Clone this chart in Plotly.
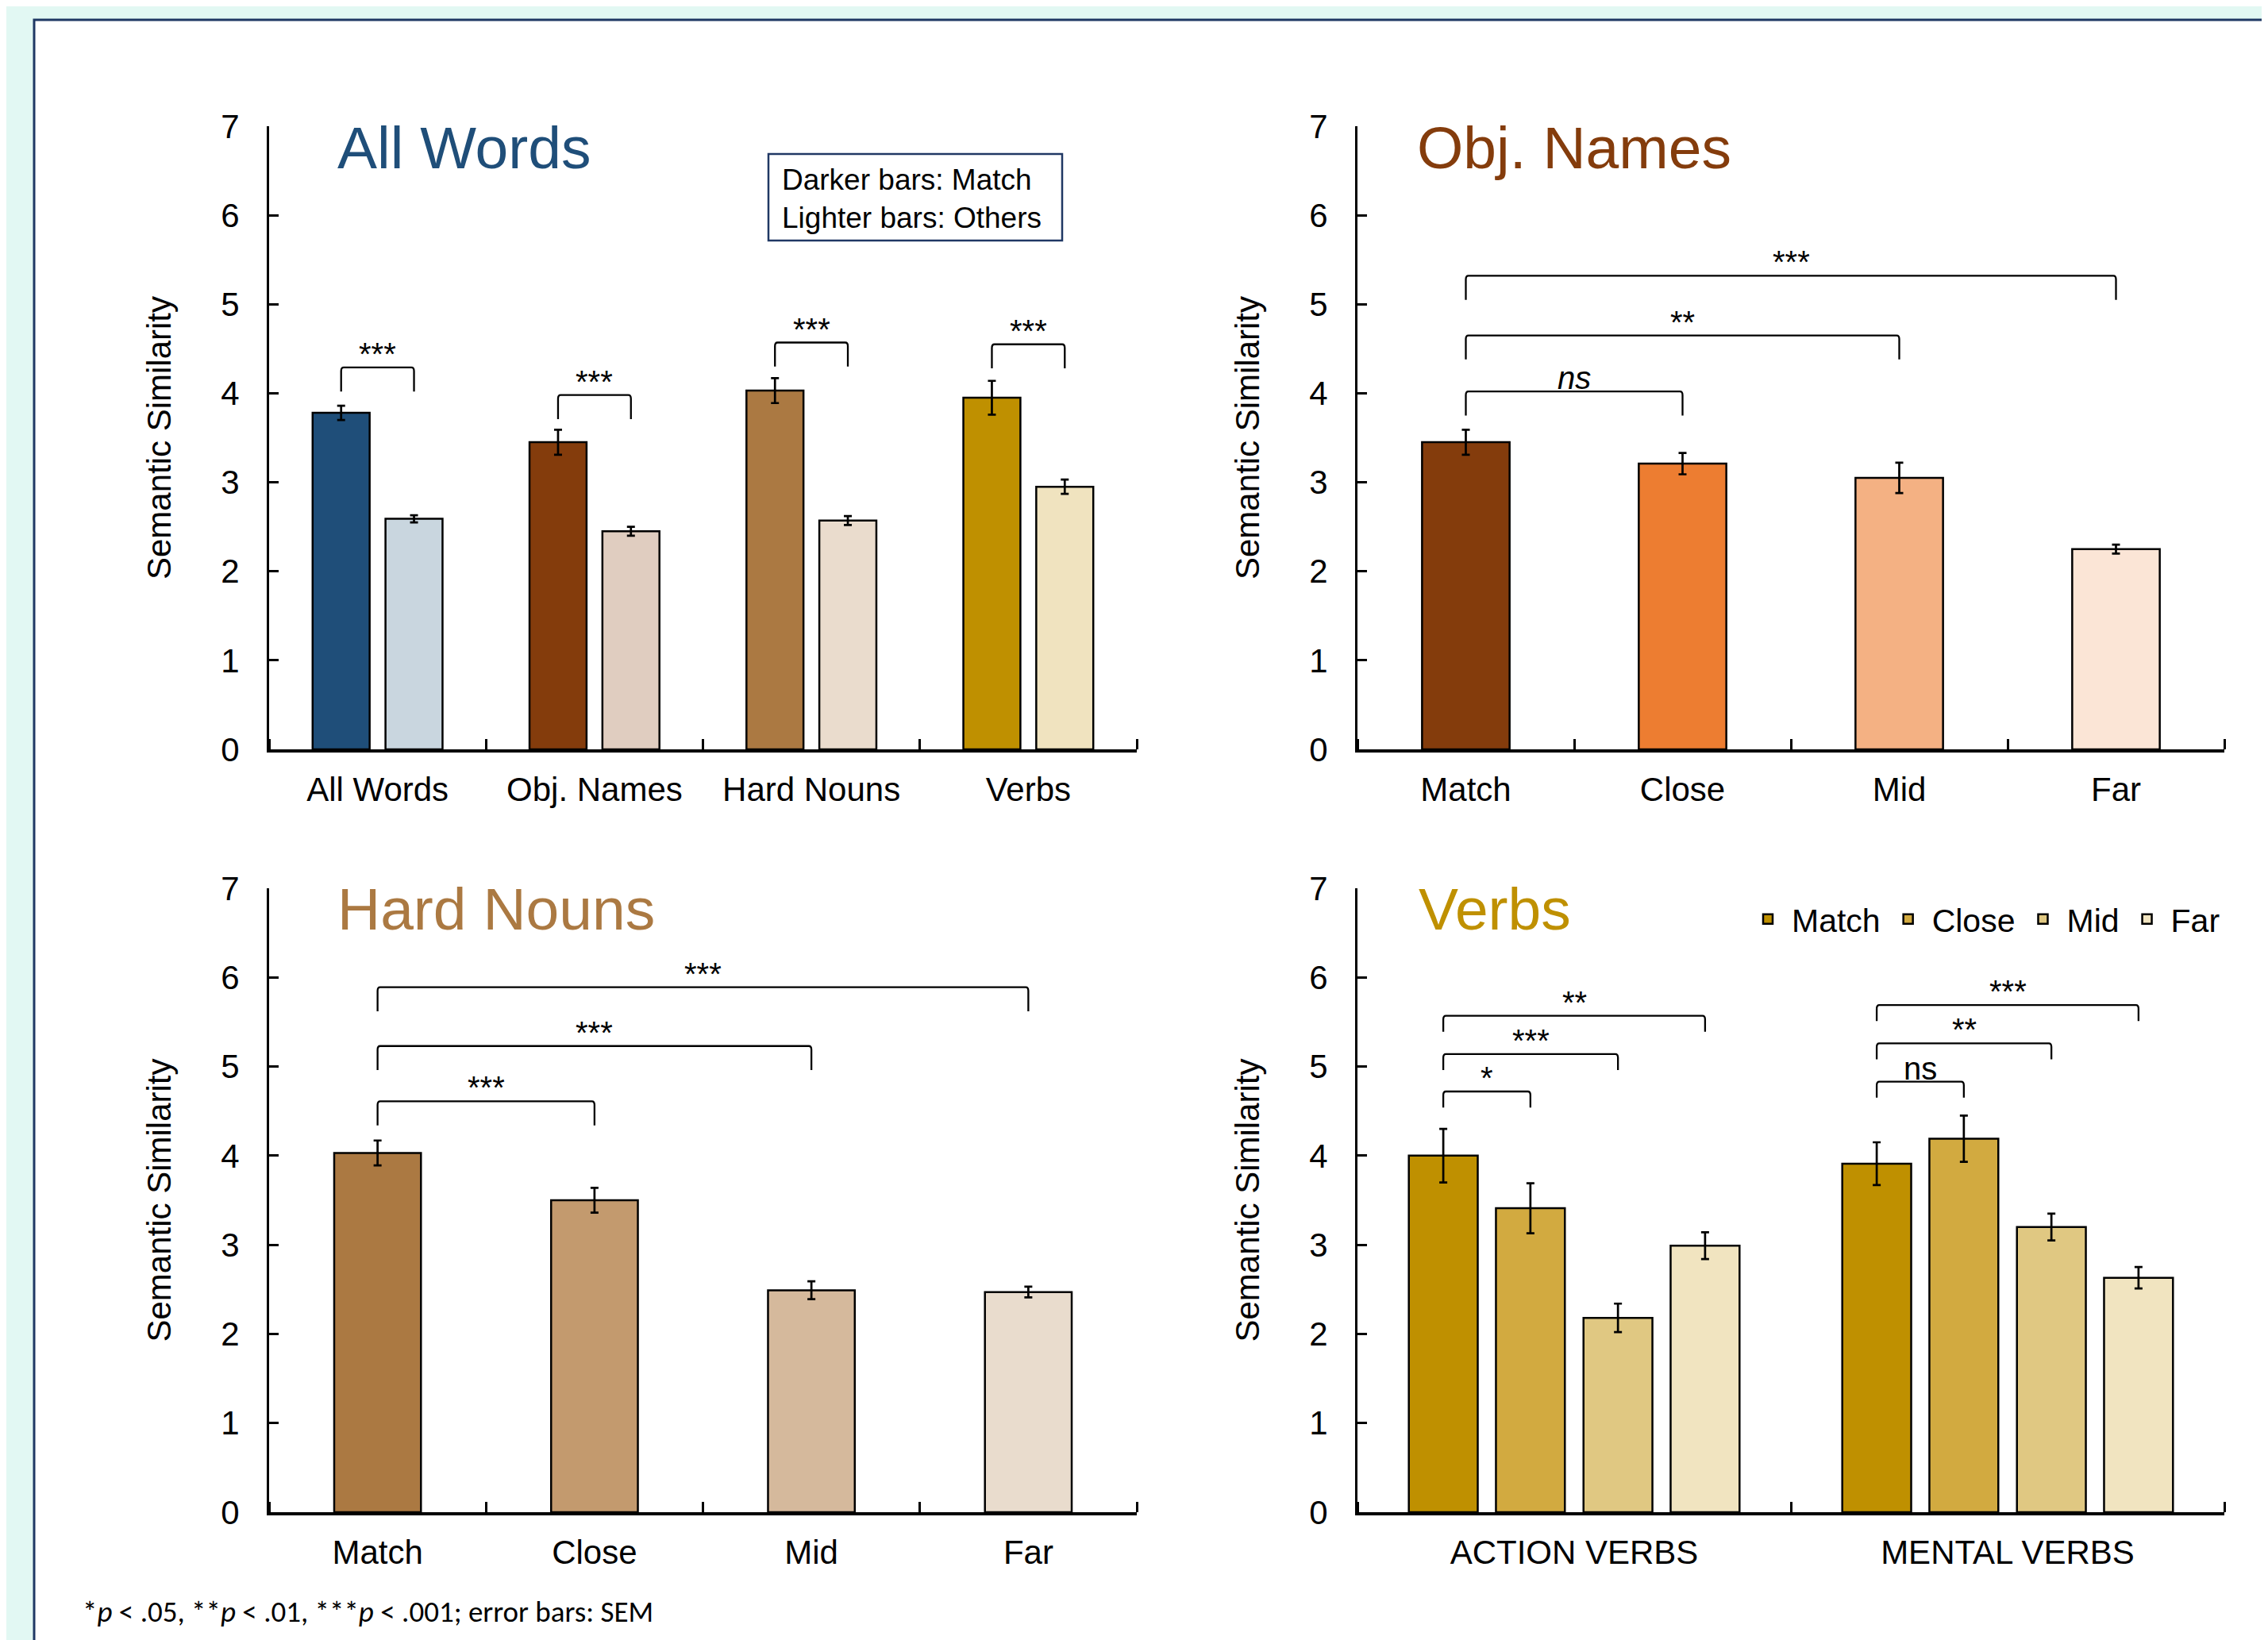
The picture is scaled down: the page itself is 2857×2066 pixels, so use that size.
import plotly.graph_objects as go

W, H = 2857, 2066

# ---------------- data ----------------
# Panel 1: All Words (match vs others)
cat1 = ["All Words", "Obj. Names", "Hard Nouns", "Verbs"]
match1 = [3.78, 3.45, 4.03, 3.95]
match1_err = [0.08, 0.14, 0.14, 0.19]
other1 = [2.59, 2.45, 2.57, 2.95]
other1_err = [0.04, 0.05, 0.05, 0.08]
match1_colors = ["#1F4E79", "#843C0C", "#AB7942", "#BF9000"]
other1_colors = ["#C9D6DF", "#E0CDC0", "#EADCCD", "#F0E3BF"]
sig1_labels = ["***", "***", "***", "***"]
sig1_tops = [4.29, 3.98, 4.57, 4.55]

# Panel 2: Obj. Names
cat2 = ["Match", "Close", "Mid", "Far"]
obj_vals = [3.45, 3.21, 3.05, 2.25]
obj_err = [0.14, 0.12, 0.17, 0.05]
obj_colors = ["#843C0C", "#ED7D31", "#F4B183", "#FBE5D6"]
sig2_to = [1, 2, 3]
sig2_labels = ["<i>ns</i>", "**", "***"]
sig2_tops = [4.02, 4.65, 5.32]

# Panel 3: Hard Nouns
cat3 = ["Match", "Close", "Mid", "Far"]
hard_vals = [4.03, 3.50, 2.49, 2.47]
hard_err = [0.14, 0.14, 0.10, 0.06]
hard_colors = ["#AB7942", "#C39A6E", "#D5B99C", "#E9DCCD"]
sig3_to = [1, 2, 3]
sig3_labels = ["***", "***", "***"]
sig3_tops = [4.61, 5.23, 5.89]

# Panel 4: Verbs
cat4 = ["ACTION VERBS", "MENTAL VERBS"]
verb_levels = ["Match", "Close", "Mid", "Far"]
verb_match = [4.00, 3.91]
verb_close = [3.41, 4.19]
verb_mid = [2.18, 3.20]
verb_far = [2.99, 2.63]
verb_match_err = [0.30, 0.24]
verb_close_err = [0.28, 0.26]
verb_mid_err = [0.16, 0.15]
verb_far_err = [0.15, 0.12]
verb_colors = ["#BF9000", "#D2AA40", "#E0C882", "#F1E4C0"]
sig4_group = [0, 0, 0, 1, 1, 1]
sig4_to = [1, 2, 3, 1, 2, 3]
sig4_labels = ["*", "***", "**", "ns", "**", "***"]
sig4_tops = [4.72, 5.14, 5.57, 4.83, 5.26, 5.69]

titles = ["All Words", "Obj. Names", "Hard Nouns", "Verbs"]
title_colors = ["#1F4E79", "#843C0C", "#AB7942", "#BF9000"]

# ---------------- styling ----------------
FONT = "Liberation Sans, Arial, sans-serif"
NOTE_FONT = "Carlito, Calibri, Lato, sans-serif"
BAR_LINE = dict(color="black", width=2.5)
OX, OY = 8, 8  # page offset of the plot div (body margin)


def err(a):
    return dict(type="data", array=a, visible=True, color="black", thickness=2.7, width=5)


def px_x(p):
    return (p - OX) / W


def px_y(p):
    return 1 - (p - OY) / H


# axis domains (pixels)
XD_L = [px_x(339), px_x(1432)]
XD_R = [px_x(1710), px_x(2802)]
YD_T = [px_y(944), px_y(159)]
YD_B = [px_y(1905), px_y(1119)]

fig = go.Figure()

# Panel 1
off1 = [-0.168, 0.168]
w1 = 0.263
xs1 = list(range(len(cat1)))
fig.add_trace(go.Bar(x=xs1, y=match1, error_y=err(match1_err), width=w1, offset=off1[0] - w1 / 2,
                     marker=dict(color=match1_colors, line=BAR_LINE), xaxis="x", yaxis="y",
                     showlegend=False, name="Match"))
fig.add_trace(go.Bar(x=xs1, y=other1, error_y=err(other1_err), width=w1, offset=off1[1] - w1 / 2,
                     marker=dict(color=other1_colors, line=BAR_LINE), xaxis="x", yaxis="y",
                     showlegend=False, name="Others"))

# Panel 2
w2 = 0.404
xs2 = list(range(len(cat2)))
fig.add_trace(go.Bar(x=xs2, y=obj_vals, error_y=err(obj_err), width=w2, offset=-w2 / 2,
                     marker=dict(color=obj_colors, line=BAR_LINE), xaxis="x2", yaxis="y2",
                     showlegend=False, name="Obj. Names"))

# Panel 3
w3 = 0.40
xs3 = list(range(len(cat3)))
fig.add_trace(go.Bar(x=xs3, y=hard_vals, error_y=err(hard_err), width=w3, offset=-w3 / 2,
                     marker=dict(color=hard_colors, line=BAR_LINE), xaxis="x3", yaxis="y3",
                     showlegend=False, name="Hard Nouns"))

# Panel 4
w4 = 0.159
off4 = [-0.302, -0.101, 0.101, 0.302]
xs4 = list(range(len(cat4)))
verb_series = [verb_match, verb_close, verb_mid, verb_far]
verb_errs = [verb_match_err, verb_close_err, verb_mid_err, verb_far_err]
for i, lev in enumerate(verb_levels):
    fig.add_trace(go.Bar(x=xs4, y=verb_series[i], error_y=err(verb_errs[i]), width=w4,
                         offset=off4[i] - w4 / 2,
                         marker=dict(color=verb_colors[i], line=BAR_LINE),
                         xaxis="x4", yaxis="y4", name=lev, showlegend=True))


def xaxis(domain, cats, anchor):
    n = len(cats)
    return dict(domain=domain, anchor=anchor, range=[-0.5, n - 0.5],
                tickmode="array", tickvals=list(range(n)), ticktext=cats, ticks="",
                showline=True, linecolor="black", linewidth=3.5, showgrid=False, zeroline=False,
                tickfont=dict(family=FONT, size=42, color="black"), ticklabelstandoff=11,
                minor=dict(tickmode="array", tickvals=[k - 0.5 for k in range(n + 1)],
                           ticks="inside", ticklen=13, tickwidth=3, tickcolor="black", showgrid=False),
                automargin=False, fixedrange=True)


def yaxis(domain, anchor):
    return dict(domain=domain, anchor=anchor, range=[0, 7], tickmode="linear", tick0=0, dtick=1,
                ticks="inside", ticklen=12, tickwidth=3, tickcolor="black",
                showline=True, linecolor="black", linewidth=3, showgrid=False, zeroline=False,
                tickfont=dict(family=FONT, size=42, color="black"), ticklabelstandoff=26,
                title=dict(text="Semantic Similarity", font=dict(family=FONT, size=42, color="black"),
                           standoff=50),
                automargin=False, fixedrange=True)


shapes = [
    dict(type="rect", xref="paper", yref="paper", x0=px_x(43), x1=1.02, y0=-0.02, y1=px_y(25),
         fillcolor="white", line=dict(color="#1F3864", width=3), layer="below"),
    # "Darker/Lighter bars" key box
    dict(type="rect", xref="paper", yref="paper", x0=px_x(968), x1=px_x(1338), y0=px_y(303), y1=px_y(194),
         fillcolor="white", line=dict(color="#203864", width=2.5)),
]
annotations = []


def bracket(xr, yr, x0, x1, ytop, leg, label, rx):
    ry = 0.04
    path = (f"M{x0},{ytop - leg} L{x0},{ytop - ry} Q{x0},{ytop} {x0 + rx},{ytop} "
            f"L{x1 - rx},{ytop} Q{x1},{ytop} {x1},{ytop - ry} L{x1},{ytop - leg}")
    shapes.append(dict(type="path", xref=xr, yref=yr, path=path, line=dict(color="black", width=2.3)))
    annotations.append(dict(xref=xr, yref=yr, x=(x0 + x1) / 2, y=ytop, text=label, showarrow=False,
                            yanchor="bottom", yshift=-7, font=dict(family=FONT, size=40, color="black")))


# panel 1 brackets: match vs others in each category
for i in range(len(cat1)):
    bracket("x", "y", i + off1[0], i + off1[1], sig1_tops[i], 0.27, sig1_labels[i], 0.012)
# panel 2
for j in range(len(sig2_to)):
    bracket("x2", "y2", 0, sig2_to[j], sig2_tops[j], 0.27, sig2_labels[j], 0.012)
# panel 3
for j in range(len(sig3_to)):
    bracket("x3", "y3", 0, sig3_to[j], sig3_tops[j], 0.27, sig3_labels[j], 0.012)
# panel 4
for j in range(len(sig4_to)):
    g = sig4_group[j]
    bracket("x4", "y4", g + off4[0], g + off4[sig4_to[j]], sig4_tops[j], 0.18, sig4_labels[j], 0.006)

# panel titles
title_pos = [(423, 186), (1783, 186), (423, 1145), (1785, 1145)]
for t, c, (tx, ty) in zip(titles, title_colors, title_pos):
    annotations.append(dict(xref="paper", yref="paper", x=px_x(tx), y=px_y(ty), text=t, showarrow=False,
                            xanchor="left", yanchor="middle", font=dict(family=FONT, size=75, color=c)))

# key box text
annotations.append(dict(xref="paper", yref="paper", x=px_x(983), y=px_y(250), showarrow=False,
                        text="Darker bars: Match<br>Lighter bars: Others", align="left",
                        xanchor="left", yanchor="middle", font=dict(family=FONT, size=37, color="black")))

# footnote
annotations.append(dict(xref="paper", yref="paper", x=px_x(102), y=px_y(2030), showarrow=False,
                        text="*<i>p</i> &lt; .05, **<i>p</i> &lt; .01, ***<i>p</i> &lt; .001; error bars: SEM",
                        xanchor="left", yanchor="middle", font=dict(family=NOTE_FONT, size=37, color="black")))

fig.update_layout(
    width=W, height=H, margin=dict(l=0, r=0, t=0, b=0, pad=0, autoexpand=False),
    paper_bgcolor="#E2F8F3", plot_bgcolor="rgba(0,0,0,0)",
    barmode="overlay",
    font=dict(family=FONT, color="black"),
    xaxis=xaxis(XD_L, cat1, "y"), yaxis=yaxis(YD_T, "x"),
    xaxis2=xaxis(XD_R, cat2, "y2"), yaxis2=yaxis(YD_T, "x2"),
    xaxis3=xaxis(XD_L, cat3, "y3"), yaxis3=yaxis(YD_B, "x3"),
    xaxis4=xaxis(XD_R, cat4, "y4"), yaxis4=yaxis(YD_B, "x4"),
    shapes=shapes, annotations=annotations,
    legend=dict(orientation="h", x=px_x(2802), xanchor="right", y=px_y(1158), yanchor="middle",
                font=dict(family=FONT, size=41, color="black"), bgcolor="rgba(0,0,0,0)",
                traceorder="normal", itemwidth=50),
)

fig.write_html("out.html")
